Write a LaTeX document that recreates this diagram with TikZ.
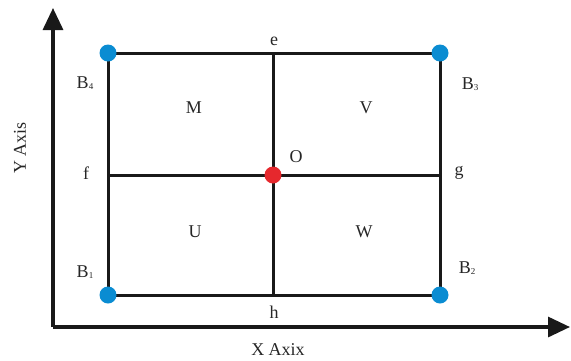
\documentclass[tikz,border=0pt]{standalone}
\usepackage{fontspec}
\setmainfont{Liberation Serif}
\usetikzlibrary{arrows.meta}
\definecolor{bdc}{RGB}{10,140,210}
\definecolor{rdc}{RGB}{230,40,45}
\begin{document}
\begin{tikzpicture}[x=1pt,y=-1pt,
  ln/.style={line width=3pt,black!90},
  ax/.style={line width=3.2pt,black!90,-{Triangle[length=22pt,width=20pt]}},
  bdot/.style={circle,fill=bdc,minimum size=17pt,inner sep=0pt},
  rdot/.style={circle,fill=rdc,minimum size=17pt,inner sep=0pt},
  lab/.style={font=\fontsize{18}{20}\selectfont,inner sep=0pt,text=black!85}]
\useasboundingbox (0,0) rectangle (571,360);
\coordinate (orig) at (53,327);
\coordinate (ytip) at (53,8);
\coordinate (xtip) at (570,327);
\draw[ax] (orig) -- (ytip);
\draw[ax] (orig) -- (xtip);
\coordinate (c1) at (108,295);
\coordinate (c2) at (440,295);
\coordinate (c3) at (440,53);
\coordinate (c4) at (108,53);
\coordinate (te) at (273,53);
\coordinate (bh) at (273,295);
\coordinate (lf) at (108,175);
\coordinate (rg) at (440,175);
\draw[ln] (c1) -- (c2) -- (c3) -- (c4) -- cycle;
\draw[ln] (te) -- (bh);
\draw[ln] (lf) -- (rg);
\node[bdot] (B1) at (c1) {};
\node[bdot] (B2) at (c2) {};
\node[bdot] (B3) at (c3) {};
\node[bdot] (B4) at (c4) {};
\node[rdot] (O) at (273,175) {};
\node[lab] (le) at (274,41) {e};
\node[lab] (lh) at (274,312) {h};
\node[lab] (lfl) at (86,173) {f};
\node[lab] (lgl) at (459,173) {g};
\node[lab] (lB4) at (85,83) {B\raisebox{-1pt}{\small 4}};
\node[lab] (lB3) at (470,84) {B\raisebox{-1pt}{\small 3}};
\node[lab] (lB1) at (85,272) {B\raisebox{-1pt}{\small 1}};
\node[lab] (lB2) at (467,268) {B\raisebox{-1pt}{\small 2}};
\node[lab] (lM) at (194,108) {M};
\node[lab] (lV) at (366,108) {V};
\node[lab] (lU) at (195,232) {U};
\node[lab] (lW) at (364,232) {W};
\node[lab] (lO) at (296,157) {O};
\node[lab] (xl) at (278,350) {X Axix};
\node[lab,rotate=90] (yl) at (20,148) {Y Axis};
\end{tikzpicture}
\end{document}
